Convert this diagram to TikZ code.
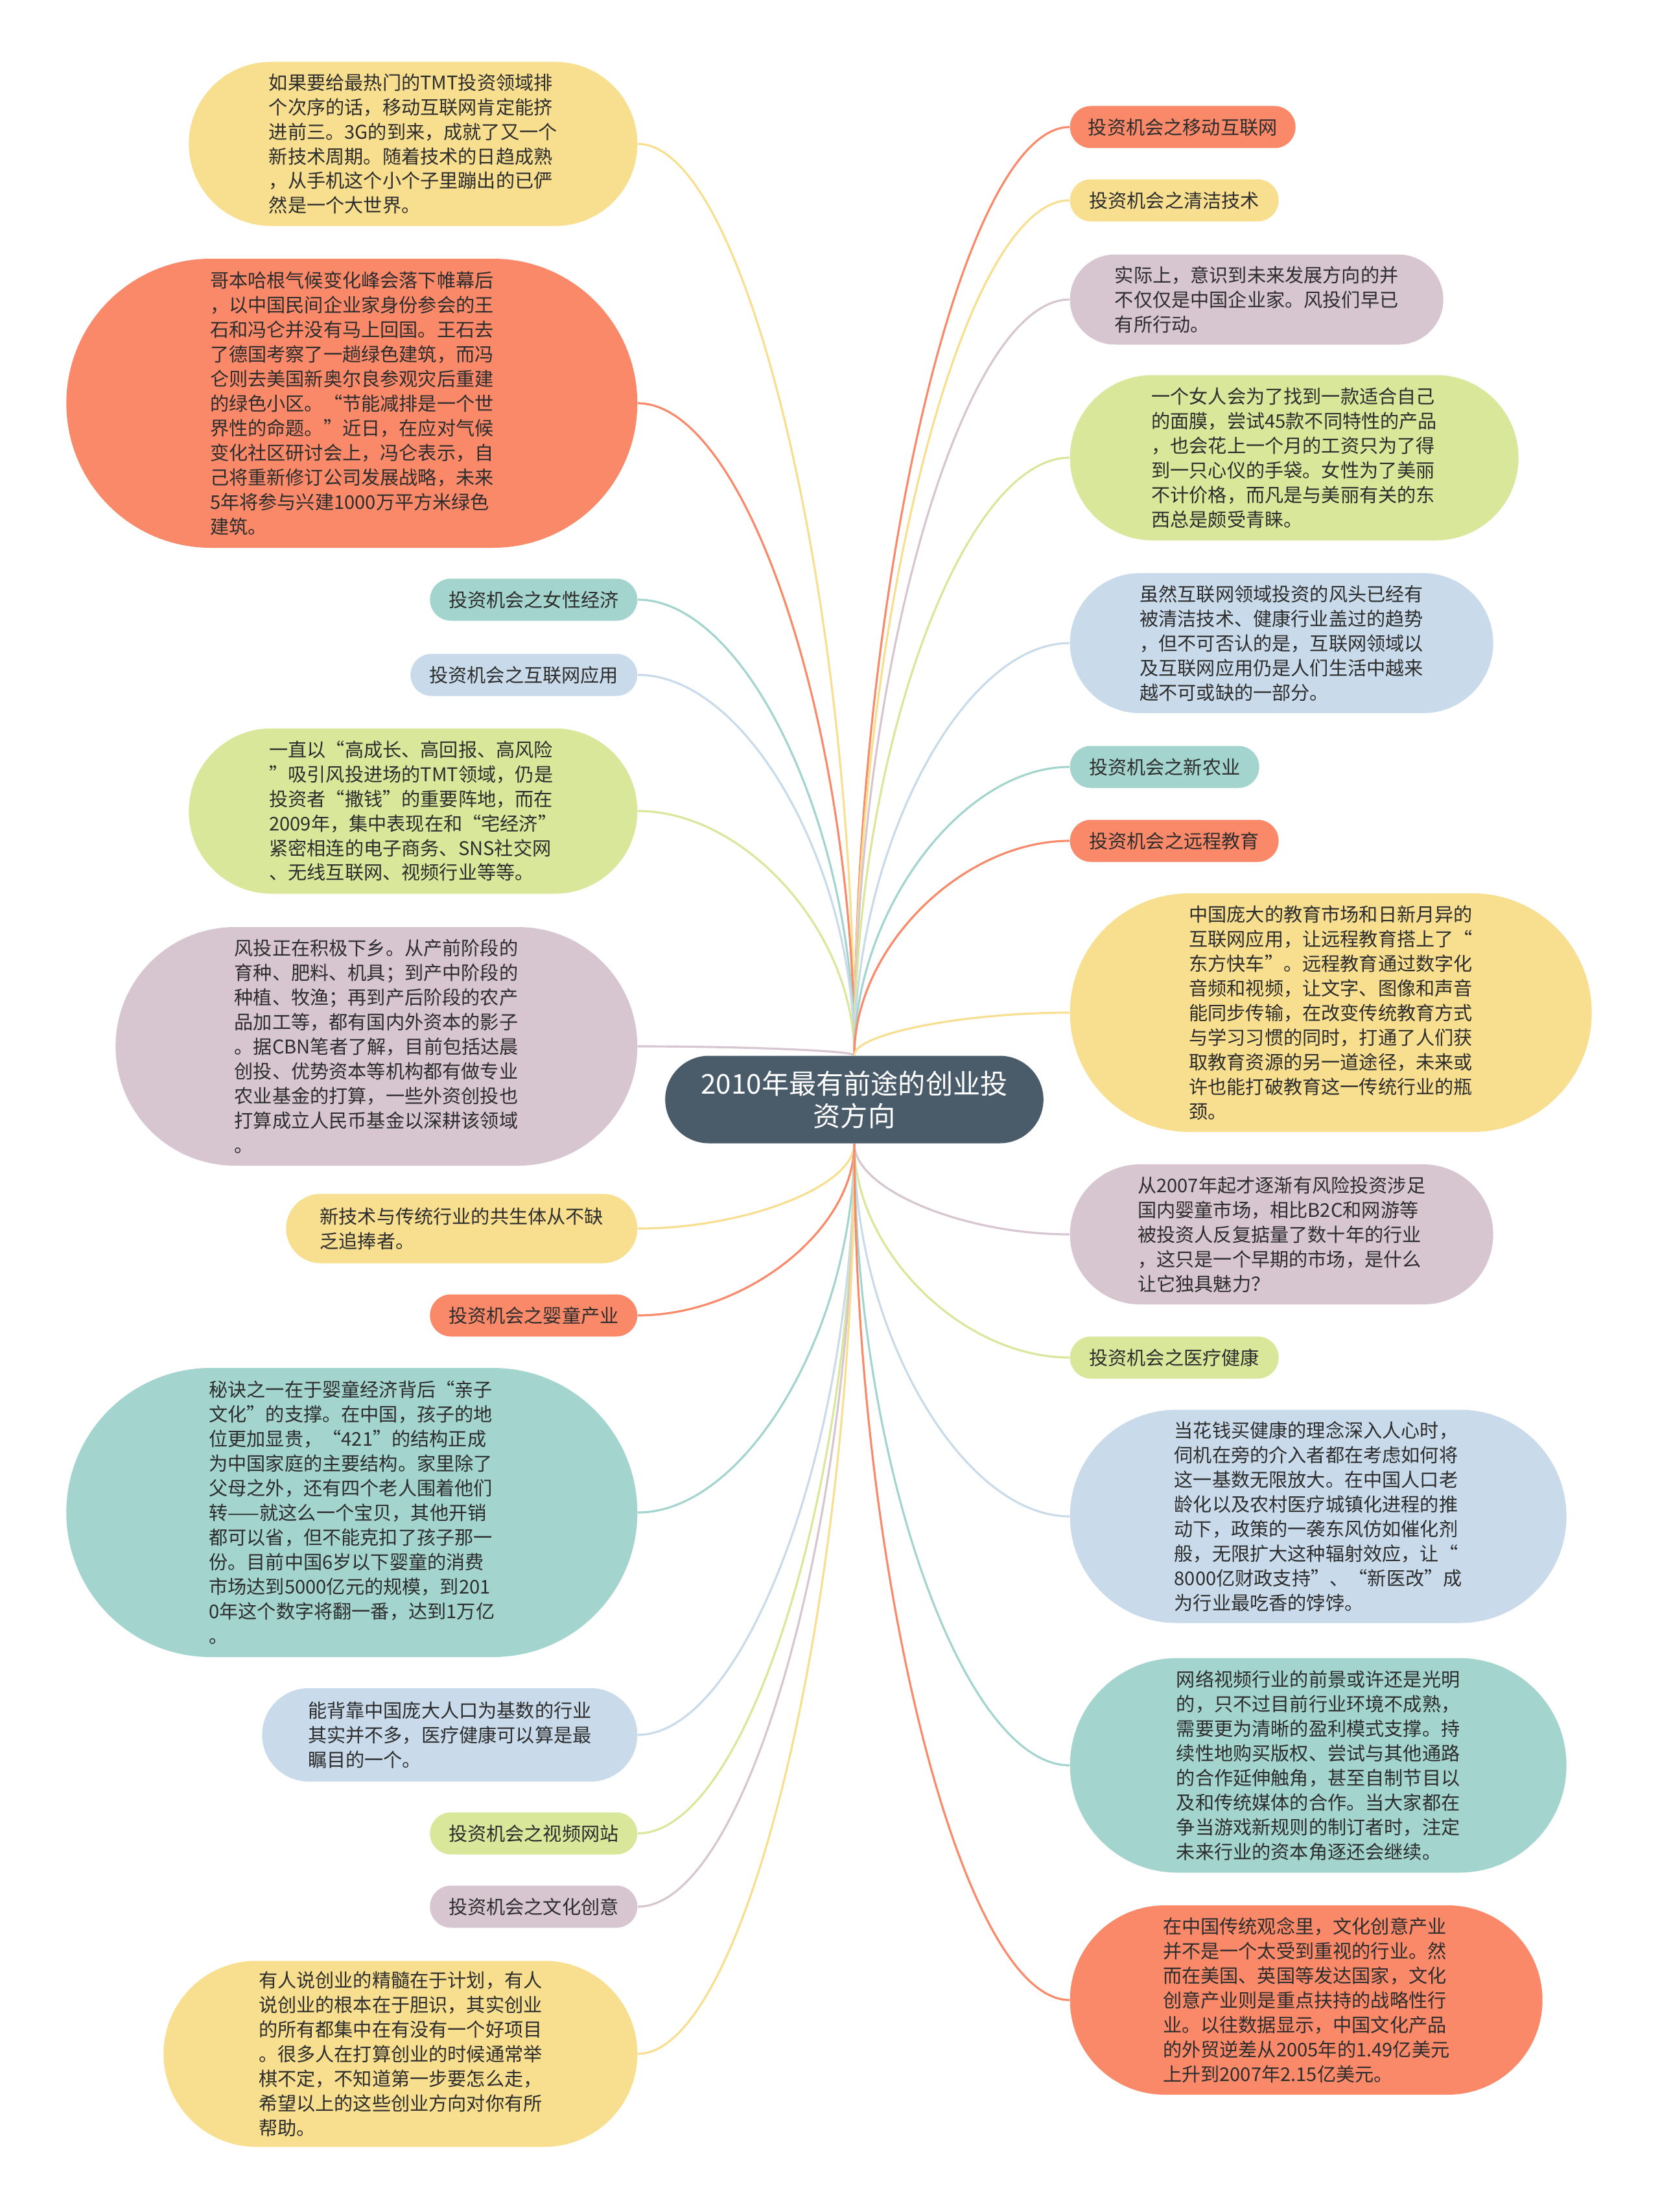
\documentclass[tikz,border=0pt]{standalone}
\usepackage{fontspec}
\setmainfont{Noto Sans CJK SC}
\definecolor{mmOrange}{RGB}{250,137,106}
\definecolor{mmYellow}{RGB}{247,223,143}
\definecolor{mmMauve}{RGB}{215,197,207}
\definecolor{mmGreen}{RGB}{216,231,154}
\definecolor{mmBlue}{RGB}{201,219,235}
\definecolor{mmTeal}{RGB}{163,212,206}
\definecolor{mmHub}{RGB}{74,91,106}
\definecolor{mmText}{RGB}{45,45,45}
\usetikzlibrary{shapes.misc,calc}

\begin{document}
\begin{tikzpicture}[x=1cm, y=-1cm,
  hub/.style={rounded rectangle, fill=mmHub, text=white, minimum width=6.07cm, minimum height=1.35cm, align=center, font=\fontsize{12pt}{14.2pt}\selectfont},
  topic/.style={rounded rectangle, inner xsep=0pt, minimum height=0.65cm, text=mmText, font=\fontsize{8.3pt}{10.8pt}\selectfont},
  para/.style={rounded rectangle, inner sep=1pt, align=left, text=mmText, font=\fontsize{8.3pt}{10.8pt}\selectfont},
  branch/.style={line width=0.9pt, to path={.. controls ($(\tikztostart)!0.5!(\tikztostart |- \tikztotarget)$) and ($(\tikztotarget)!0.5!(\tikztostart |- \tikztotarget)$) .. (\tikztotarget)}}
]
  \path[use as bounding box, fill=white] (0,0) rectangle (25.60,34.12);

  \node[hub] (hub) at (13.18,16.96) {2010年最有前途的创业投\\资方向};

  % left side
  \node[para, fill=mmYellow, minimum width=6.99cm, minimum height=2.53cm, anchor=east] (tmtText) at (9.84,2.22) {如果要给最热门的TMT投资领域排\\个次序的话，移动互联网肯定能挤\\进前三。3G的到来，成就了又一个\\新技术周期。随着技术的日趋成熟\\，从手机这个小个子里蹦出的已俨\\然是一个大世界。};
  \node[para, fill=mmOrange, minimum width=8.88cm, minimum height=4.46cm, anchor=east] (greenBuild) at (9.84,6.22) {哥本哈根气候变化峰会落下帷幕后\\，以中国民间企业家身份参会的王\\石和冯仑并没有马上回国。王石去\\了德国考察了一趟绿色建筑，而冯\\仑则去美国新奥尔良参观灾后重建\\的绿色小区。“节能减排是一个世\\界性的命题。”近日，在应对气候\\变化社区研讨会上，冯仑表示，自\\己将重新修订公司发展战略，未来\\5年将参与兴建1000万平方米绿色\\建筑。};
  \node[topic, fill=mmTeal, minimum width=3.20cm, anchor=east] (femTopic) at (9.84,9.25) {投资机会之女性经济};
  \node[topic, fill=mmBlue, minimum width=3.50cm, anchor=east] (webTopic) at (9.84,10.41) {投资机会之互联网应用};
  \node[para, fill=mmGreen, minimum width=6.99cm, minimum height=2.55cm, anchor=east] (tmtField) at (9.84,12.51) {一直以“高成长、高回报、高风险\\”吸引风投进场的TMT领域，仍是\\投资者“撒钱”的重要阵地，而在\\2009年，集中表现在和“宅经济”\\紧密相连的电子商务、SNS社交网\\、无线互联网、视频行业等等。};
  \node[para, fill=mmMauve, minimum width=8.12cm, minimum height=3.68cm, anchor=east] (farmText) at (9.84,16.14) {风投正在积极下乡。从产前阶段的\\育种、肥料、机具；到产中阶段的\\种植、牧渔；再到产后阶段的农产\\品加工等，都有国内外资本的影子\\。据CBN笔者了解，目前包括达晨\\创投、优势资本等机构都有做专业\\农业基金的打算，一些外资创投也\\打算成立人民币基金以深耕该领域\\。};
  \node[para, fill=mmYellow, minimum width=5.49cm, minimum height=1.07cm, anchor=east] (symbiosis) at (9.84,18.95) {新技术与传统行业的共生体从不缺\\乏追捧者。};
  \node[topic, fill=mmOrange, minimum width=3.20cm, anchor=east] (babyTopic) at (9.84,20.29) {投资机会之婴童产业};
  \node[para, fill=mmTeal, minimum width=8.88cm, minimum height=4.46cm, anchor=east] (babySecret) at (9.84,23.33) {秘诀之一在于婴童经济背后“亲子\\文化”的支撑。在中国，孩子的地\\位更加显贵，“421”的结构正成\\为中国家庭的主要结构。家里除了\\父母之外，还有四个老人围着他们\\转——就这么一个宝贝，其他开销\\都可以省，但不能克扣了孩子那一\\份。目前中国6岁以下婴童的消费\\市场达到5000亿元的规模，到201\\0年这个数字将翻一番，达到1万亿\\。};
  \node[para, fill=mmBlue, minimum width=5.86cm, minimum height=1.44cm, anchor=east] (healthPop) at (9.84,26.76) {能背靠中国庞大人口为基数的行业\\其实并不多，医疗健康可以算是最\\瞩目的一个。};
  \node[topic, fill=mmGreen, minimum width=3.20cm, anchor=east] (videoTopic) at (9.84,28.28) {投资机会之视频网站};
  \node[topic, fill=mmMauve, minimum width=3.20cm, anchor=east] (cultureTopic) at (9.84,29.41) {投资机会之文化创意};
  \node[para, fill=mmYellow, minimum width=7.38cm, minimum height=2.87cm, anchor=east] (closing) at (9.84,31.68) {有人说创业的精髓在于计划，有人\\说创业的根本在于胆识，其实创业\\的所有都集中在有没有一个好项目\\。很多人在打算创业的时候通常举\\棋不定，不知道第一步要怎么走，\\希望以上的这些创业方向对你有所\\帮助。};

  % right side
  \node[topic, fill=mmOrange, minimum width=3.48cm, anchor=west] (mobileTopic) at (16.50,1.96) {投资机会之移动互联网};
  \node[topic, fill=mmYellow, minimum width=3.22cm, anchor=west] (cleanTopic) at (16.50,3.09) {投资机会之清洁技术};
  \node[para, fill=mmMauve, minimum width=5.83cm, minimum height=1.39cm, anchor=west] (vcMoves) at (16.50,4.62) {实际上，意识到未来发展方向的并\\不仅仅是中国企业家。风投们早已\\有所行动。};
  \node[para, fill=mmGreen, minimum width=6.99cm, minimum height=2.55cm, anchor=west] (femText) at (16.50,7.06) {一个女人会为了找到一款适合自己\\的面膜，尝试45款不同特性的产品\\，也会花上一个月的工资只为了得\\到一只心仪的手袋。女性为了美丽\\不计价格，而凡是与美丽有关的东\\西总是颇受青睐。};
  \node[para, fill=mmBlue, minimum width=6.60cm, minimum height=2.16cm, anchor=west] (webText) at (16.50,9.92) {虽然互联网领域投资的风头已经有\\被清洁技术、健康行业盖过的趋势\\，但不可否认的是，互联网领域以\\及互联网应用仍是人们生活中越来\\越不可或缺的一部分。};
  \node[topic, fill=mmTeal, minimum width=2.92cm, anchor=west] (farmTopic) at (16.50,11.83) {投资机会之新农业};
  \node[topic, fill=mmOrange, minimum width=3.22cm, anchor=west] (eduTopic) at (16.50,12.97) {投资机会之远程教育};
  \node[para, fill=mmYellow, minimum width=8.12cm, minimum height=3.68cm, anchor=west] (eduText) at (16.50,15.62) {中国庞大的教育市场和日新月异的\\互联网应用，让远程教育搭上了“\\东方快车”。远程教育通过数字化\\音频和视频，让文字、图像和声音\\能同步传输，在改变传统教育方式\\与学习习惯的同时，打通了人们获\\取教育资源的另一道途径，未来或\\许也能打破教育这一传统行业的瓶\\颈。};
  \node[para, fill=mmMauve, minimum width=6.60cm, minimum height=2.16cm, anchor=west] (babyMarket) at (16.50,19.04) {从2007年起才逐渐有风险投资涉足\\国内婴童市场，相比B2C和网游等\\被投资人反复掂量了数十年的行业\\，这只是一个早期的市场，是什么\\让它独具魅力？};
  \node[topic, fill=mmGreen, minimum width=3.22cm, anchor=west] (healthTopic) at (16.50,20.94) {投资机会之医疗健康};
  \node[para, fill=mmBlue, minimum width=7.73cm, minimum height=3.29cm, anchor=west] (healthText) at (16.50,23.39) {当花钱买健康的理念深入人心时，\\伺机在旁的介入者都在考虑如何将\\这一基数无限放大。在中国人口老\\龄化以及农村医疗城镇化进程的推\\动下，政策的一袭东风仿如催化剂\\般，无限扩大这种辐射效应，让“\\8000亿财政支持”、“新医改”成\\为行业最吃香的饽饽。};
  \node[para, fill=mmTeal, minimum width=7.73cm, minimum height=3.31cm, anchor=west] (videoText) at (16.50,27.23) {网络视频行业的前景或许还是光明\\的，只不过目前行业环境不成熟，\\需要更为清晰的盈利模式支撑。持\\续性地购买版权、尝试与其他通路\\的合作延伸触角，甚至自制节目以\\及和传统媒体的合作。当大家都在\\争当游戏新规则的制订者时，注定\\未来行业的资本角逐还会继续。};
  \node[para, fill=mmOrange, minimum width=7.36cm, minimum height=2.92cm, anchor=west] (cultureText) at (16.50,30.85) {在中国传统观念里，文化创意产业\\并不是一个太受到重视的行业。然\\而在美国、英国等发达国家，文化\\创意产业则是重点扶持的战略性行\\业。以往数据显示，中国文化产品\\的外贸逆差从2005年的1.49亿美元\\上升到2007年2.15亿美元。};

  % branches
  \draw[branch, mmYellow] (hub.north) to (tmtText.east);
  \draw[branch, mmOrange] (hub.north) to (greenBuild.east);
  \draw[branch, mmTeal] (hub.north) to (femTopic.east);
  \draw[branch, mmBlue] (hub.north) to (webTopic.east);
  \draw[branch, mmGreen] (hub.north) to (tmtField.east);
  \draw[branch, mmMauve] (hub.north) to (farmText.east);
  \draw[branch, mmYellow] (hub.south) to (symbiosis.east);
  \draw[branch, mmOrange] (hub.south) to (babyTopic.east);
  \draw[branch, mmTeal] (hub.south) to (babySecret.east);
  \draw[branch, mmBlue] (hub.south) to (healthPop.east);
  \draw[branch, mmGreen] (hub.south) to (videoTopic.east);
  \draw[branch, mmMauve] (hub.south) to (cultureTopic.east);
  \draw[branch, mmYellow] (hub.south) to (closing.east);

  \draw[branch, mmOrange] (hub.north) to (mobileTopic.west);
  \draw[branch, mmYellow] (hub.north) to (cleanTopic.west);
  \draw[branch, mmMauve] (hub.north) to (vcMoves.west);
  \draw[branch, mmGreen] (hub.north) to (femText.west);
  \draw[branch, mmBlue] (hub.north) to (webText.west);
  \draw[branch, mmTeal] (hub.north) to (farmTopic.west);
  \draw[branch, mmOrange] (hub.north) to (eduTopic.west);
  \draw[branch, mmYellow] (hub.north) to (eduText.west);
  \draw[branch, mmMauve] (hub.south) to (babyMarket.west);
  \draw[branch, mmGreen] (hub.south) to (healthTopic.west);
  \draw[branch, mmBlue] (hub.south) to (healthText.west);
  \draw[branch, mmTeal] (hub.south) to (videoText.west);
  \draw[branch, mmOrange] (hub.south) to (cultureText.west);
\end{tikzpicture}
\end{document}
